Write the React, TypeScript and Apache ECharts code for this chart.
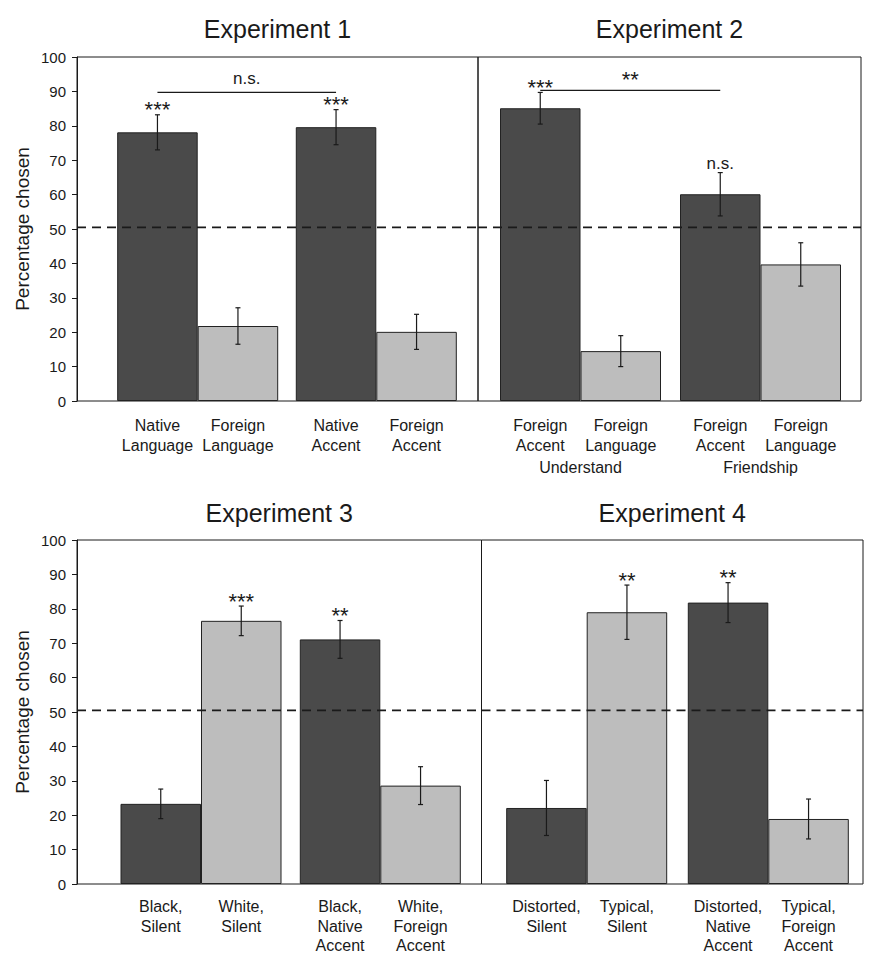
import React, { useEffect, useRef } from "react";
import * as echarts from "echarts";

// ---------- data ----------
const titles = ["Experiment 1", "Experiment 2", "Experiment 3", "Experiment 4"];
const yTicks = [0, 10, 20, 30, 40, 50, 60, 70, 80, 90, 100];
const chanceLevel = [50.5];

const exp1Labels = ["Native\nLanguage", "Foreign\nLanguage", "Native\nAccent", "Foreign\nAccent"];
const exp1Groups = ["", ""];
const exp1Values = [78.1, 21.8, 79.6, 20.1];
const exp1Errors = [5.1, 5.3, 5.1, 5.1];
const exp1Sig = ["***", "", "***", ""];
const exp1Comparisons = [{ from: 0, to: 2, value: 89.7, label: "n.s." }];

const exp2Labels = ["Foreign\nAccent", "Foreign\nLanguage", "Foreign\nAccent", "Foreign\nLanguage"];
const exp2Groups = ["Understand", "Friendship"];
const exp2Values = [85.1, 14.5, 60.1, 39.7];
const exp2Errors = [4.6, 4.5, 6.3, 6.3];
const exp2Sig = ["***", "", "n.s.", ""];
const exp2Comparisons = [{ from: 0, to: 2, value: 90.3, label: "**" }];

const exp3Labels = ["Black,\nSilent", "White,\nSilent", "Black,\nNative\nAccent", "White,\nForeign\nAccent"];
const exp3Groups = ["", ""];
const exp3Values = [23.3, 76.5, 71.1, 28.6];
const exp3Errors = [4.3, 4.3, 5.5, 5.5];
const exp3Sig = ["", "***", "**", ""];
const exp3Comparisons: any[] = [];

const exp4Labels = ["Distorted,\nSilent", "Typical,\nSilent", "Distorted,\nNative\nAccent", "Typical,\nForeign\nAccent"];
const exp4Groups = ["", ""];
const exp4Values = [22.1, 79.0, 81.8, 18.9];
const exp4Errors = [8.0, 7.9, 5.8, 5.8];
const exp4Sig = ["", "**", "**", ""];
const exp4Comparisons: any[] = [];

// ---------- layout / style ----------
const FONT = "'Liberation Sans', Arial, Helvetica, sans-serif";
const INK = "#1a1a1a";
const DARK = "#4a4a4a";
const LIGHT = "#bdbdbd";
const BAR_W = 80.5;

const frames = [
  { left: 77, top: 57, width: 401, height: 344, showY: true },
  { left: 478, top: 57, width: 383, height: 344, showY: false },
  { left: 77, top: 540, width: 404.5, height: 344, showY: true },
  { left: 481.5, top: 540, width: 381.5, height: 344, showY: false },
];
const plots = [
  { left: 108.4, top: 57, width: 357.2, height: 344, labelGap: 15 },
  { left: 490.5, top: 57, width: 360, height: 344, labelGap: 15 },
  { left: 111.35, top: 540, width: 358.6, height: 344, labelGap: 13 },
  { left: 495.9, top: 540, width: 363.2, height: 344, labelGap: 13 },
];
const titleTops = [16, 16, 500, 500];

const experiments = [
  { labels: exp1Labels, groups: exp1Groups, values: exp1Values, errors: exp1Errors, sig: exp1Sig, cmp: exp1Comparisons },
  { labels: exp2Labels, groups: exp2Groups, values: exp2Values, errors: exp2Errors, sig: exp2Sig, cmp: exp2Comparisons },
  { labels: exp3Labels, groups: exp3Groups, values: exp3Values, errors: exp3Errors, sig: exp3Sig, cmp: exp3Comparisons },
  { labels: exp4Labels, groups: exp4Groups, values: exp4Values, errors: exp4Errors, sig: exp4Sig, cmp: exp4Comparisons },
];

function textY(text: string, glyphCenter: number, fs: number) {
  // asterisks sit above the text centre, lowercase slightly below
  if (text.indexOf("*") >= 0) return glyphCenter + 0.09 * fs;
  return glyphCenter - 0.09 * fs;
}
function textSize(text: string) {
  return text.indexOf("*") >= 0 ? 22 : 17;
}

function barX(api: any, b: number) {
  const g = Math.floor(b / 2);
  const s = b % 2;
  const c = api.coord([g, 0])[0];
  return c + (s === 0 ? -BAR_W / 2 : BAR_W / 2);
}

function buildOption() {
  const grid: any[] = [];
  const xAxis: any[] = [];
  const yAxis: any[] = [];
  const series: any[] = [];
  const title: any[] = [];

  frames.forEach((f, i) => {
    grid.push({
      left: f.left, top: f.top, width: f.width, height: f.height,
      show: true, borderColor: INK, borderWidth: 1, backgroundColor: "transparent",
    });
    xAxis.push({
      type: "value", gridIndex: i, min: 0, max: 1,
      axisLine: { show: false }, axisTick: { show: false }, axisLabel: { show: false }, splitLine: { show: false },
    });
    yAxis.push({
      type: "value", gridIndex: i, min: yTicks[0], max: yTicks[yTicks.length - 1], interval: yTicks[1] - yTicks[0],
      show: f.showY,
      axisLine: { show: true, lineStyle: { color: INK, width: 1 } },
      axisTick: { show: true, length: 5, lineStyle: { color: INK } },
      axisLabel: { show: true, fontSize: 15, color: INK, fontFamily: FONT, margin: 11 },
      splitLine: { show: false },
      name: f.showY ? "Percentage chosen" : "",
      nameLocation: "middle",
      nameGap: 45,
      nameTextStyle: { fontSize: 19, color: INK, fontFamily: FONT },
    });
    series.push({
      type: "custom",
      xAxisIndex: i, yAxisIndex: i,
      z: 10, silent: true,
      data: chanceLevel.map((v) => [0, v]),
      renderItem: (params: any, api: any) => {
        const cs = params.coordSys;
        const y = api.coord([0, api.value(1)])[1];
        return {
          type: "line",
          shape: { x1: cs.x, y1: y, x2: cs.x + cs.width, y2: y },
          style: { stroke: INK, lineWidth: 1.7, lineDash: [9, 6] },
        };
      },
    });
    title.push({
      text: titles[i],
      left: f.left + f.width / 2,
      top: titleTops[i],
      textAlign: "center",
      padding: 0,
      textStyle: { fontSize: 25, fontWeight: "normal", color: INK, fontFamily: FONT, lineHeight: 25 },
    });
  });

  experiments.forEach((e, k) => {
    const p = plots[k];
    const gi = 4 + k;
    grid.push({ left: p.left, top: p.top, width: p.width, height: p.height });
    xAxis.push({
      type: "category", gridIndex: gi, data: e.groups,
      axisLine: { show: false }, axisTick: { show: false }, splitLine: { show: false },
      axisLabel: { show: true, fontSize: 16, color: INK, fontFamily: FONT, margin: 57, lineHeight: 19.5 },
    });
    yAxis.push({
      type: "value", gridIndex: gi, min: 0, max: 100, interval: 10, show: false,
      splitLine: { show: false },
    });
    [0, 1].forEach((s) => {
      const idx = [s, s + 2];
      series.push({
        type: "bar",
        xAxisIndex: gi, yAxisIndex: gi,
        barWidth: BAR_W, barGap: "0%",
        data: idx.map((b) => e.values[b]),
        itemStyle: { color: s === 0 ? DARK : LIGHT, borderColor: "#222", borderWidth: 1 },
        label: {
          show: true,
          position: "bottom",
          distance: p.labelGap,
          formatter: (prm: any) => e.labels[idx[prm.dataIndex]],
          fontSize: 16, lineHeight: 19.5, color: INK, fontFamily: FONT, align: "center",
        },
        silent: true,
      });
    });
    // error bars + significance marks
    series.push({
      type: "custom",
      xAxisIndex: gi, yAxisIndex: gi,
      z: 5, silent: true,
      data: e.values.map((v, b) => [b, v, e.errors[b]]),
      renderItem: (params: any, api: any) => {
        const b = api.value(0);
        const v = api.value(1);
        const er = api.value(2);
        const x = barX(api, b);
        const yT = api.coord([0, v + er])[1];
        const yB = api.coord([0, v - er])[1];
        const cap = 2.5;
        const st = { stroke: INK, lineWidth: 1.2 };
        const children: any[] = [
          { type: "line", shape: { x1: x, y1: yT, x2: x, y2: yB }, style: st },
          { type: "line", shape: { x1: x - cap, y1: yT, x2: x + cap, y2: yT }, style: st },
          { type: "line", shape: { x1: x - cap, y1: yB, x2: x + cap, y2: yB }, style: st },
        ];
        const t = e.sig[params.dataIndex];
        if (t) {
          const fs = textSize(t);
          const gap = t.indexOf("*") >= 0 ? 7 : 7.7;
          children.push({
            type: "text",
            x, y: textY(t, yT - gap, fs),
            style: { text: t, fontSize: fs, fontFamily: FONT, fill: INK, align: "center", verticalAlign: "middle" },
          });
        }
        return { type: "group", children };
      },
    });
    if (e.cmp.length) {
      series.push({
        type: "custom",
        xAxisIndex: gi, yAxisIndex: gi,
        z: 5, silent: true,
        data: e.cmp.map((c: any) => [c.from, c.to, c.value]),
        renderItem: (params: any, api: any) => {
          const x1 = barX(api, api.value(0));
          const x2 = barX(api, api.value(1));
          const y = api.coord([0, api.value(2)])[1];
          const t = e.cmp[params.dataIndex].label;
          const fs = textSize(t);
          return {
            type: "group",
            children: [
              { type: "line", shape: { x1, y1: y, x2, y2: y }, style: { stroke: INK, lineWidth: 1.2 } },
              {
                type: "text",
                x: (x1 + x2) / 2, y: textY(t, y - 12.8, fs),
                style: { text: t, fontSize: fs, fontFamily: FONT, fill: INK, align: "center", verticalAlign: "middle" },
              },
            ],
          };
        },
      });
    }
  });

  return {
    animation: false,
    backgroundColor: "#ffffff",
    textStyle: { fontFamily: FONT },
    title,
    grid,
    xAxis,
    yAxis,
    series,
  };
}

export default function App() {
  const ref = useRef<HTMLDivElement>(null);
  useEffect(() => {
    if (!ref.current) return;
    const chart = echarts.init(ref.current, undefined, { renderer: "svg" });
    chart.setOption(buildOption() as any);
    return () => chart.dispose();
  }, []);
  return (
    <div
      ref={ref}
      style={{ position: "absolute", left: 0, top: 0, width: 870, height: 962, background: "#fff" }}
    />
  );
}
